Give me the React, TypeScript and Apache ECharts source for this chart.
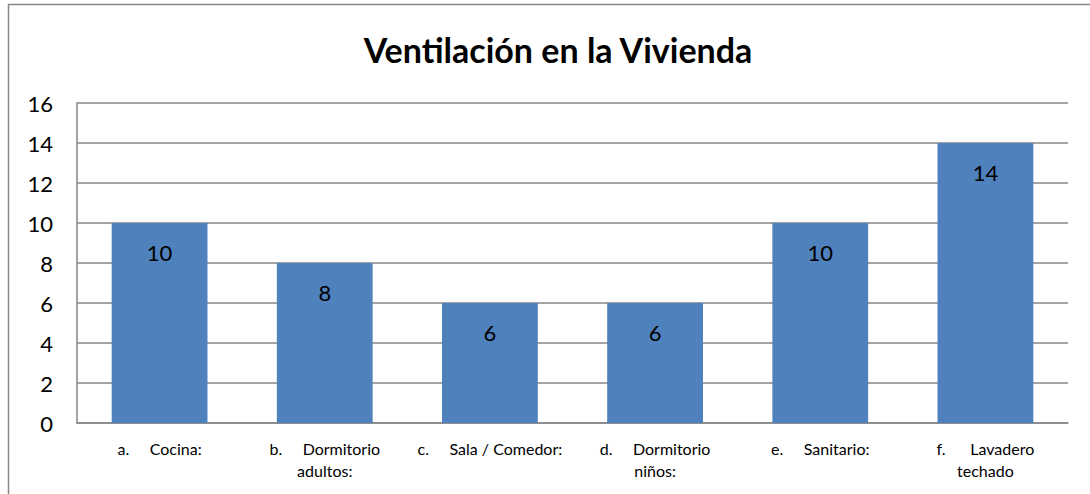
import React, { useEffect, useRef } from "react";
import * as echarts from "echarts";

const categories = [
  "a.     Cocina:",
  "b.     Dormitorio\nadultos:",
  "c.     Sala / Comedor:",
  "d.     Dormitorio\nniños:",
  "e.     Sanitario:",
  "f.      Lavadero\ntechado",
];
const values = [10, 8, 6, 6, 10, 14];
const yTicks = { min: 0, max: 16, interval: 2 };
const title = "Ventilación en la Vivienda";

const FONT = "Lato, 'Open Sans', sans-serif";

export default function App() {
  const ref = useRef<HTMLDivElement>(null);
  useEffect(() => {
    if (!ref.current) return;
    const chart = echarts.init(ref.current, null, { renderer: "svg" });
    chart.setOption({
      animation: false,
      backgroundColor: "#ffffff",
      title: {
        text: title,
        left: 553,
        textAlign: "center",
        top: 27,
        textStyle: { fontFamily: FONT, fontSize: 34, fontWeight: "bold", color: "#000" },
      },
      graphic: [
        {
          type: "rect",
          shape: { x: 8.5, y: 4.5, width: 1100, height: 520 },
          style: { fill: "none", stroke: "#868686", lineWidth: 1.5 },
          silent: true,
          z: -1,
        },
      ],
      grid: { left: 77, right: 22, top: 103, bottom: 71, containLabel: false },
      xAxis: {
        type: "category",
        data: categories,
        axisLine: { show: true, lineStyle: { color: "#868686", width: 1.5 } },
        axisTick: { show: false },
        axisLabel: {
          interval: 0,
          fontFamily: FONT,
          fontSize: 16,
          color: "#000",
          lineHeight: 22,
          margin: 14,
        },
      },
      yAxis: {
        type: "value",
        min: yTicks.min,
        max: yTicks.max,
        interval: yTicks.interval,
        axisLine: { show: true, lineStyle: { color: "#868686", width: 1.5 } },
        axisTick: { show: false },
        splitLine: { lineStyle: { color: "#868686", width: 1.5 } },
        axisLabel: { fontFamily: FONT, fontSize: 22, color: "#000", margin: 24 },
      },
      series: [
        {
          type: "bar",
          data: values,
          barCategoryGap: "42%",
          itemStyle: { color: "#4F81BD" },
          label: {
            show: true,
            position: "insideTop",
            distance: 18,
            fontFamily: FONT,
            fontSize: 22,
            color: "#000",
          },
        },
      ],
    });
    return () => chart.dispose();
  }, []);
  return (
    <div
      ref={ref}
      style={{ position: "fixed", left: 0, top: 0, width: 1090, height: 494 }}
    />
  );
}
